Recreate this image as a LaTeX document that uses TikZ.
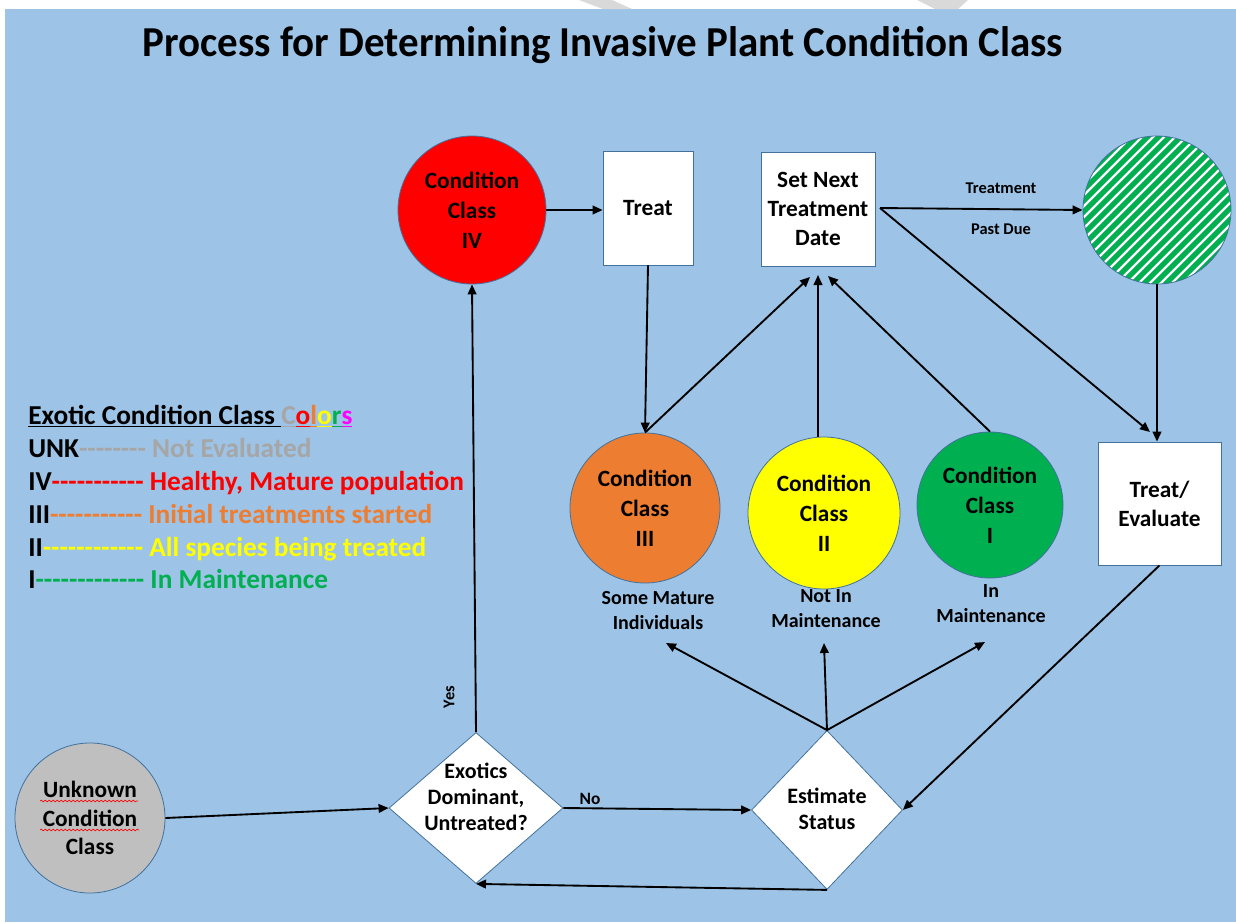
\documentclass[tikz,border=0pt]{standalone}
\usepackage{fontspec}
\usepackage{graphicx}
\setmainfont{Carlito}
\usetikzlibrary{arrows.meta,shapes.geometric,decorations.pathmorphing}
\definecolor{bg}{HTML}{9DC3E6}
\definecolor{edge}{HTML}{41719C}
\definecolor{cred}{HTML}{FF0000}
\definecolor{corange}{HTML}{ED7D31}
\definecolor{cyellow}{HTML}{FFFF00}
\definecolor{cgreen}{HTML}{00B050}
\definecolor{cgray}{HTML}{BFBFBF}
\definecolor{lgray}{HTML}{A6A6A6}
\definecolor{cmag}{HTML}{FF00FF}
\definecolor{wm}{HTML}{D9D9D9}
\newcommand\mydashes[1]{\foreach\k in {1,...,#1}{-\kern0pt}}
\begin{document}
\begin{tikzpicture}[x=0.75pt,y=-0.75pt,
  circ/.style={circle, draw=edge, line width=0.6pt, inner sep=0pt, align=center,
    font=\bfseries\fontsize{17.5}{22.5}\selectfont},
  boxn/.style={rectangle, draw=edge, fill=white, line width=0.6pt, inner sep=0pt, align=center,
    font=\bfseries\fontsize{17.5}{21.75}\selectfont},
  dia/.style={diamond, draw=edge, fill=white, line width=0.6pt, inner sep=0pt},
  diatext/.style={align=center, inner sep=0pt, font=\bfseries\fontsize{16.5}{19.5}\selectfont},
  arr/.style={line width=1.4pt, -{Triangle[length=7.5pt,width=6.5pt]}},
  lab/.style={align=center, inner sep=0pt, font=\bfseries\fontsize{15}{18.75}\selectfont},
  small/.style={inner sep=0pt, font=\bfseries\fontsize{12.3}{14}\selectfont},
  leg/.style={anchor=base west, inner sep=0pt, font=\bfseries\fontsize{20.5}{24}\selectfont}
]
\useasboundingbox (0,0) rectangle (1236,922);
\fill[white] (0,0) rectangle (1236,922);
\fill[bg] (5,9) rectangle (1236,922);
\fill[wm] (579,0) -- (612,0) -- (632,9) -- (603,9) -- cycle;
\fill[wm] (917,0) -- (968,0) -- (958,9) -- (935,9) -- cycle;

% title
\node[inner sep=0pt, font=\bfseries\fontsize{32}{38}\selectfont] (title) at (603,45)
  {\scalebox{0.96}[1]{Process for Determining Invasive Plant Condition Class}};

% striped circle
\begin{scope}
  \clip (1157,210) circle[radius=74];
  \fill[cgreen] (1157,210) circle[radius=74];
  \foreach \i in {-11,...,11}
    \draw[white, line width=1.8pt, shift={(1157,210)}] (\i*11-160,160) -- ++(320,-320);
\end{scope}
\node[circle, draw=edge, line width=0.6pt, minimum size=111pt, inner sep=0pt] (sc) at (1157,210) {};

% nodes
\node[circ, fill=cred, minimum size=111pt] (iv) at (472,210) {Condition\\Class\\IV};
\node[boxn, minimum width=67.5pt, minimum height=85.5pt] (treat) at (648,208) {Treat};
\node[boxn, minimum width=85.5pt, minimum height=85.5pt] (sn) at (818,209) {Set Next\\Treatment\\Date};
\node[boxn, minimum width=92.25pt, minimum height=92.25pt] (te) at (1159.5,503.5) {Treat/\\Evaluate};
\node[circ, fill=corange, minimum size=112.5pt] (iii) at (645,508) {Condition\\Class\\III};
\node[circ, fill=cyellow, minimum size=114pt] (ii) at (824,513) {Condition\\Class\\II};
\node[circ, fill=cgreen, minimum size=109.5pt] (i) at (990,505) {Condition\\Class\\I};
\node[circ, fill=cgray, minimum size=112.5pt, font=\bfseries\fontsize{17.5}{21.4}\selectfont] (un) at (90,818) {Unknown\\Condition\\Class};
\draw[cred, line width=0.5pt, decorate, decoration={snake, segment length=3pt, amplitude=0.6pt}]
  (40,801) -- (138,801);
\draw[cred, line width=0.5pt, decorate, decoration={snake, segment length=3pt, amplitude=0.6pt}]
  (40,830) -- (139,830);

\node[dia, minimum width=130.5pt, minimum height=113.25pt] (ex) at (476,808) {};
\node[diatext] (ext) at (476,797) {Exotics\\Dominant,\\Untreated?};
\node[dia, minimum width=113.25pt, minimum height=119.25pt] (es) at (827,810) {};
\node[diatext] (est) at (827,809) {Estimate\\Status};

% labels
\node[lab] (l3) at (658,611) {Some Mature\\Individuals};
\node[lab] (l2) at (826,609) {Not In\\Maintenance};
\node[lab] (l1) at (991,604) {In\\Maintenance};
\node[small] (tr) at (1001,188) {Treatment};
\node[small] (pd) at (1001,229) {Past Due};
\node[small, rotate=90] (yes) at (449,697) {Yes};
\node[small, font=\bfseries\fontsize{13}{15}\selectfont] (no) at (590,799) {No};

% coordinates for arrow tips
\coordinate (t3) at (810,277);
\coordinate (t2) at (818,275);
\coordinate (t1) at (828,276);
\coordinate (tt) at (1150,432);
\coordinate (a3) at (666,643);
\coordinate (a2) at (824,643);
\coordinate (a1) at (985,642);
\coordinate (ii top) at (818,437);
\coordinate (sn out) at (880,208);

% connectors
\draw[arr] (iv.east) -- (treat.west |- iv.east);
\draw[arr] (treat.south) -- (iii.north);
\draw[arr] (iii.north) -- (t3);
\draw[arr] (ii top) -- (t2);
\draw[arr] (i.north) -- (t1);
\draw[arr] (sn out) -- (sc.west);
\draw[arr] (sn out) -- (tt);
\draw[arr] (sc.south) -- (te.north -| sc.south);
\draw[arr] (te.south) -- (es.east);
\draw[arr] (un.east) -- (ex.west);
\draw[arr] (ex.east) -- (es.west);
\draw[arr] (es.south) -- (ex.south);
\draw[arr] (ex.north) -- (iv.south);
\draw[arr] (es.north) -- (a3);
\draw[arr] (es.north) -- (a2);
\draw[arr] (es.north) -- (a1);

% legend
\node[leg] (lh) at (28,424) {\underline{Exotic Condition Class }%
  \textcolor{lgray}{\underline{C}}\textcolor{cred}{\underline{o}}\textcolor{corange}{\underline{l}}%
  \textcolor{cyellow}{\underline{o}}\textcolor{cgreen}{\underline{r}}\textcolor{cmag}{\underline{s}}};
\node[leg] (lunk) at (28,457) {UNK\textcolor{lgray}{\mydashes{8} Not Evaluated}};
\node[leg] (liv) at (28,490) {IV\textcolor{cred}{\mydashes{11} Healthy, Mature population}};
\node[leg] (liii) at (28,523) {III\textcolor{corange}{\mydashes{11} Initial treatments started}};
\node[leg] (lii) at (28,556) {II\textcolor{cyellow}{\mydashes{12} All species being treated}};
\node[leg] (li) at (28,588) {I\textcolor{cgreen}{\mydashes{13} In Maintenance}};
\end{tikzpicture}
\end{document}
